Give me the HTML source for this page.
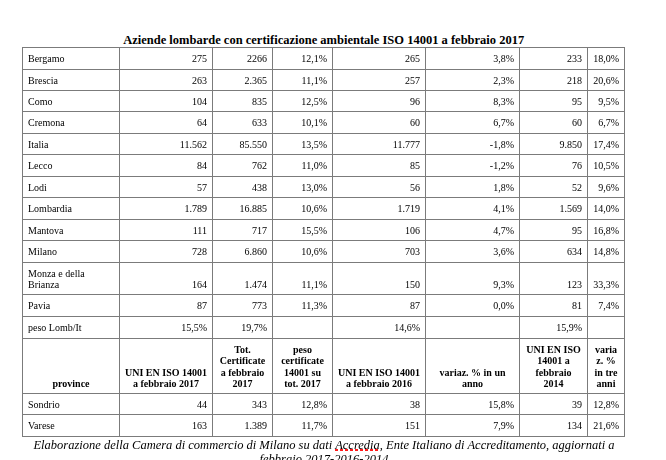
<!DOCTYPE html>
<html><head><meta charset="utf-8"><style>
html,body{margin:0;padding:0;background:#fff;}
body{width:666px;height:460px;position:relative;overflow:hidden;font-family:"Liberation Serif",serif;color:#000;}
.t{position:absolute;white-space:nowrap;}
.h{position:absolute;height:1px;background:#7b7b7b;}
.v{position:absolute;width:1px;background:#7b7b7b;}
.gl{position:absolute;left:0;top:0;width:666px;height:460px;will-change:transform;}
.sp{text-decoration:underline dotted #e02020;text-underline-offset:2px;}
</style></head><body>
<div class="h" style="left:22px;top:47px;width:603px"></div>
<div class="h" style="left:22px;top:69px;width:603px"></div>
<div class="h" style="left:22px;top:90px;width:603px"></div>
<div class="h" style="left:22px;top:111px;width:603px"></div>
<div class="h" style="left:22px;top:133px;width:603px"></div>
<div class="h" style="left:22px;top:154px;width:603px"></div>
<div class="h" style="left:22px;top:176px;width:603px"></div>
<div class="h" style="left:22px;top:197px;width:603px"></div>
<div class="h" style="left:22px;top:219px;width:603px"></div>
<div class="h" style="left:22px;top:240px;width:603px"></div>
<div class="h" style="left:22px;top:262px;width:603px"></div>
<div class="h" style="left:22px;top:294px;width:603px"></div>
<div class="h" style="left:22px;top:316px;width:603px"></div>
<div class="h" style="left:22px;top:338px;width:603px"></div>
<div class="h" style="left:22px;top:393px;width:603px"></div>
<div class="h" style="left:22px;top:414px;width:603px"></div>
<div class="h" style="left:22px;top:436px;width:603px"></div>
<div class="v" style="left:22px;top:47px;height:390px"></div>
<div class="v" style="left:119px;top:47px;height:390px"></div>
<div class="v" style="left:212px;top:47px;height:390px"></div>
<div class="v" style="left:272px;top:47px;height:390px"></div>
<div class="v" style="left:332px;top:47px;height:390px"></div>
<div class="v" style="left:425px;top:47px;height:390px"></div>
<div class="v" style="left:519px;top:47px;height:390px"></div>
<div class="v" style="left:587px;top:47px;height:390px"></div>
<div class="v" style="left:624px;top:47px;height:390px"></div>
<div class="t" style="left:23.70px;width:600px;text-align:center;top:33.76px;font-size:12.5px;line-height:13.838px;font-weight:bold;font-style:normal;">Aziende lombarde con certificazione ambientale ISO 14001 a febbraio 2017</div>
<div class="gl">
<div class="t" style="left:28.00px;top:52.99px;font-size:10.0px;line-height:11.070px;font-weight:normal;font-style:normal;">Bergamo</div>
<div class="t" style="right:459.00px;top:52.99px;font-size:10.0px;line-height:11.070px;font-weight:normal;font-style:normal;">275</div>
<div class="t" style="right:399.00px;top:52.99px;font-size:10.0px;line-height:11.070px;font-weight:normal;font-style:normal;">2266</div>
<div class="t" style="right:339.00px;top:52.99px;font-size:10.0px;line-height:11.070px;font-weight:normal;font-style:normal;">12,1%</div>
<div class="t" style="right:246.00px;top:52.99px;font-size:10.0px;line-height:11.070px;font-weight:normal;font-style:normal;">265</div>
<div class="t" style="right:152.00px;top:52.99px;font-size:10.0px;line-height:11.070px;font-weight:normal;font-style:normal;">3,8%</div>
<div class="t" style="right:84.00px;top:52.99px;font-size:10.0px;line-height:11.070px;font-weight:normal;font-style:normal;">233</div>
<div class="t" style="right:47.00px;top:52.99px;font-size:10.0px;line-height:11.070px;font-weight:normal;font-style:normal;">18,0%</div>
<div class="t" style="left:28.00px;top:74.99px;font-size:10.0px;line-height:11.070px;font-weight:normal;font-style:normal;">Brescia</div>
<div class="t" style="right:459.00px;top:74.99px;font-size:10.0px;line-height:11.070px;font-weight:normal;font-style:normal;">263</div>
<div class="t" style="right:399.00px;top:74.99px;font-size:10.0px;line-height:11.070px;font-weight:normal;font-style:normal;">2.365</div>
<div class="t" style="right:339.00px;top:74.99px;font-size:10.0px;line-height:11.070px;font-weight:normal;font-style:normal;">11,1%</div>
<div class="t" style="right:246.00px;top:74.99px;font-size:10.0px;line-height:11.070px;font-weight:normal;font-style:normal;">257</div>
<div class="t" style="right:152.00px;top:74.99px;font-size:10.0px;line-height:11.070px;font-weight:normal;font-style:normal;">2,3%</div>
<div class="t" style="right:84.00px;top:74.99px;font-size:10.0px;line-height:11.070px;font-weight:normal;font-style:normal;">218</div>
<div class="t" style="right:47.00px;top:74.99px;font-size:10.0px;line-height:11.070px;font-weight:normal;font-style:normal;">20,6%</div>
<div class="t" style="left:28.00px;top:95.99px;font-size:10.0px;line-height:11.070px;font-weight:normal;font-style:normal;">Como</div>
<div class="t" style="right:459.00px;top:95.99px;font-size:10.0px;line-height:11.070px;font-weight:normal;font-style:normal;">104</div>
<div class="t" style="right:399.00px;top:95.99px;font-size:10.0px;line-height:11.070px;font-weight:normal;font-style:normal;">835</div>
<div class="t" style="right:339.00px;top:95.99px;font-size:10.0px;line-height:11.070px;font-weight:normal;font-style:normal;">12,5%</div>
<div class="t" style="right:246.00px;top:95.99px;font-size:10.0px;line-height:11.070px;font-weight:normal;font-style:normal;">96</div>
<div class="t" style="right:152.00px;top:95.99px;font-size:10.0px;line-height:11.070px;font-weight:normal;font-style:normal;">8,3%</div>
<div class="t" style="right:84.00px;top:95.99px;font-size:10.0px;line-height:11.070px;font-weight:normal;font-style:normal;">95</div>
<div class="t" style="right:47.00px;top:95.99px;font-size:10.0px;line-height:11.070px;font-weight:normal;font-style:normal;">9,5%</div>
<div class="t" style="left:28.00px;top:116.99px;font-size:10.0px;line-height:11.070px;font-weight:normal;font-style:normal;">Cremona</div>
<div class="t" style="right:459.00px;top:116.99px;font-size:10.0px;line-height:11.070px;font-weight:normal;font-style:normal;">64</div>
<div class="t" style="right:399.00px;top:116.99px;font-size:10.0px;line-height:11.070px;font-weight:normal;font-style:normal;">633</div>
<div class="t" style="right:339.00px;top:116.99px;font-size:10.0px;line-height:11.070px;font-weight:normal;font-style:normal;">10,1%</div>
<div class="t" style="right:246.00px;top:116.99px;font-size:10.0px;line-height:11.070px;font-weight:normal;font-style:normal;">60</div>
<div class="t" style="right:152.00px;top:116.99px;font-size:10.0px;line-height:11.070px;font-weight:normal;font-style:normal;">6,7%</div>
<div class="t" style="right:84.00px;top:116.99px;font-size:10.0px;line-height:11.070px;font-weight:normal;font-style:normal;">60</div>
<div class="t" style="right:47.00px;top:116.99px;font-size:10.0px;line-height:11.070px;font-weight:normal;font-style:normal;">6,7%</div>
<div class="t" style="left:28.00px;top:138.99px;font-size:10.0px;line-height:11.070px;font-weight:normal;font-style:normal;">Italia</div>
<div class="t" style="right:459.00px;top:138.99px;font-size:10.0px;line-height:11.070px;font-weight:normal;font-style:normal;">11.562</div>
<div class="t" style="right:399.00px;top:138.99px;font-size:10.0px;line-height:11.070px;font-weight:normal;font-style:normal;">85.550</div>
<div class="t" style="right:339.00px;top:138.99px;font-size:10.0px;line-height:11.070px;font-weight:normal;font-style:normal;">13,5%</div>
<div class="t" style="right:246.00px;top:138.99px;font-size:10.0px;line-height:11.070px;font-weight:normal;font-style:normal;">11.777</div>
<div class="t" style="right:152.00px;top:138.99px;font-size:10.0px;line-height:11.070px;font-weight:normal;font-style:normal;">-1,8%</div>
<div class="t" style="right:84.00px;top:138.99px;font-size:10.0px;line-height:11.070px;font-weight:normal;font-style:normal;">9.850</div>
<div class="t" style="right:47.00px;top:138.99px;font-size:10.0px;line-height:11.070px;font-weight:normal;font-style:normal;">17,4%</div>
<div class="t" style="left:28.00px;top:159.99px;font-size:10.0px;line-height:11.070px;font-weight:normal;font-style:normal;">Lecco</div>
<div class="t" style="right:459.00px;top:159.99px;font-size:10.0px;line-height:11.070px;font-weight:normal;font-style:normal;">84</div>
<div class="t" style="right:399.00px;top:159.99px;font-size:10.0px;line-height:11.070px;font-weight:normal;font-style:normal;">762</div>
<div class="t" style="right:339.00px;top:159.99px;font-size:10.0px;line-height:11.070px;font-weight:normal;font-style:normal;">11,0%</div>
<div class="t" style="right:246.00px;top:159.99px;font-size:10.0px;line-height:11.070px;font-weight:normal;font-style:normal;">85</div>
<div class="t" style="right:152.00px;top:159.99px;font-size:10.0px;line-height:11.070px;font-weight:normal;font-style:normal;">-1,2%</div>
<div class="t" style="right:84.00px;top:159.99px;font-size:10.0px;line-height:11.070px;font-weight:normal;font-style:normal;">76</div>
<div class="t" style="right:47.00px;top:159.99px;font-size:10.0px;line-height:11.070px;font-weight:normal;font-style:normal;">10,5%</div>
<div class="t" style="left:28.00px;top:181.99px;font-size:10.0px;line-height:11.070px;font-weight:normal;font-style:normal;">Lodi</div>
<div class="t" style="right:459.00px;top:181.99px;font-size:10.0px;line-height:11.070px;font-weight:normal;font-style:normal;">57</div>
<div class="t" style="right:399.00px;top:181.99px;font-size:10.0px;line-height:11.070px;font-weight:normal;font-style:normal;">438</div>
<div class="t" style="right:339.00px;top:181.99px;font-size:10.0px;line-height:11.070px;font-weight:normal;font-style:normal;">13,0%</div>
<div class="t" style="right:246.00px;top:181.99px;font-size:10.0px;line-height:11.070px;font-weight:normal;font-style:normal;">56</div>
<div class="t" style="right:152.00px;top:181.99px;font-size:10.0px;line-height:11.070px;font-weight:normal;font-style:normal;">1,8%</div>
<div class="t" style="right:84.00px;top:181.99px;font-size:10.0px;line-height:11.070px;font-weight:normal;font-style:normal;">52</div>
<div class="t" style="right:47.00px;top:181.99px;font-size:10.0px;line-height:11.070px;font-weight:normal;font-style:normal;">9,6%</div>
<div class="t" style="left:28.00px;top:202.99px;font-size:10.0px;line-height:11.070px;font-weight:normal;font-style:normal;">Lombardia</div>
<div class="t" style="right:459.00px;top:202.99px;font-size:10.0px;line-height:11.070px;font-weight:normal;font-style:normal;">1.789</div>
<div class="t" style="right:399.00px;top:202.99px;font-size:10.0px;line-height:11.070px;font-weight:normal;font-style:normal;">16.885</div>
<div class="t" style="right:339.00px;top:202.99px;font-size:10.0px;line-height:11.070px;font-weight:normal;font-style:normal;">10,6%</div>
<div class="t" style="right:246.00px;top:202.99px;font-size:10.0px;line-height:11.070px;font-weight:normal;font-style:normal;">1.719</div>
<div class="t" style="right:152.00px;top:202.99px;font-size:10.0px;line-height:11.070px;font-weight:normal;font-style:normal;">4,1%</div>
<div class="t" style="right:84.00px;top:202.99px;font-size:10.0px;line-height:11.070px;font-weight:normal;font-style:normal;">1.569</div>
<div class="t" style="right:47.00px;top:202.99px;font-size:10.0px;line-height:11.070px;font-weight:normal;font-style:normal;">14,0%</div>
<div class="t" style="left:28.00px;top:224.99px;font-size:10.0px;line-height:11.070px;font-weight:normal;font-style:normal;">Mantova</div>
<div class="t" style="right:459.00px;top:224.99px;font-size:10.0px;line-height:11.070px;font-weight:normal;font-style:normal;">111</div>
<div class="t" style="right:399.00px;top:224.99px;font-size:10.0px;line-height:11.070px;font-weight:normal;font-style:normal;">717</div>
<div class="t" style="right:339.00px;top:224.99px;font-size:10.0px;line-height:11.070px;font-weight:normal;font-style:normal;">15,5%</div>
<div class="t" style="right:246.00px;top:224.99px;font-size:10.0px;line-height:11.070px;font-weight:normal;font-style:normal;">106</div>
<div class="t" style="right:152.00px;top:224.99px;font-size:10.0px;line-height:11.070px;font-weight:normal;font-style:normal;">4,7%</div>
<div class="t" style="right:84.00px;top:224.99px;font-size:10.0px;line-height:11.070px;font-weight:normal;font-style:normal;">95</div>
<div class="t" style="right:47.00px;top:224.99px;font-size:10.0px;line-height:11.070px;font-weight:normal;font-style:normal;">16,8%</div>
<div class="t" style="left:28.00px;top:245.99px;font-size:10.0px;line-height:11.070px;font-weight:normal;font-style:normal;">Milano</div>
<div class="t" style="right:459.00px;top:245.99px;font-size:10.0px;line-height:11.070px;font-weight:normal;font-style:normal;">728</div>
<div class="t" style="right:399.00px;top:245.99px;font-size:10.0px;line-height:11.070px;font-weight:normal;font-style:normal;">6.860</div>
<div class="t" style="right:339.00px;top:245.99px;font-size:10.0px;line-height:11.070px;font-weight:normal;font-style:normal;">10,6%</div>
<div class="t" style="right:246.00px;top:245.99px;font-size:10.0px;line-height:11.070px;font-weight:normal;font-style:normal;">703</div>
<div class="t" style="right:152.00px;top:245.99px;font-size:10.0px;line-height:11.070px;font-weight:normal;font-style:normal;">3,6%</div>
<div class="t" style="right:84.00px;top:245.99px;font-size:10.0px;line-height:11.070px;font-weight:normal;font-style:normal;">634</div>
<div class="t" style="right:47.00px;top:245.99px;font-size:10.0px;line-height:11.070px;font-weight:normal;font-style:normal;">14,8%</div>
<div class="t" style="left:28.00px;top:267.99px;font-size:10.0px;line-height:11.070px;font-weight:normal;font-style:normal;">Monza e della</div>
<div class="t" style="left:28.00px;top:278.79px;font-size:10.0px;line-height:11.070px;font-weight:normal;font-style:normal;">Brianza</div>
<div class="t" style="right:459.00px;top:278.79px;font-size:10.0px;line-height:11.070px;font-weight:normal;font-style:normal;">164</div>
<div class="t" style="right:399.00px;top:278.79px;font-size:10.0px;line-height:11.070px;font-weight:normal;font-style:normal;">1.474</div>
<div class="t" style="right:339.00px;top:278.79px;font-size:10.0px;line-height:11.070px;font-weight:normal;font-style:normal;">11,1%</div>
<div class="t" style="right:246.00px;top:278.79px;font-size:10.0px;line-height:11.070px;font-weight:normal;font-style:normal;">150</div>
<div class="t" style="right:152.00px;top:278.79px;font-size:10.0px;line-height:11.070px;font-weight:normal;font-style:normal;">9,3%</div>
<div class="t" style="right:84.00px;top:278.79px;font-size:10.0px;line-height:11.070px;font-weight:normal;font-style:normal;">123</div>
<div class="t" style="right:47.00px;top:278.79px;font-size:10.0px;line-height:11.070px;font-weight:normal;font-style:normal;">33,3%</div>
<div class="t" style="left:28.00px;top:299.99px;font-size:10.0px;line-height:11.070px;font-weight:normal;font-style:normal;">Pavia</div>
<div class="t" style="right:459.00px;top:299.99px;font-size:10.0px;line-height:11.070px;font-weight:normal;font-style:normal;">87</div>
<div class="t" style="right:399.00px;top:299.99px;font-size:10.0px;line-height:11.070px;font-weight:normal;font-style:normal;">773</div>
<div class="t" style="right:339.00px;top:299.99px;font-size:10.0px;line-height:11.070px;font-weight:normal;font-style:normal;">11,3%</div>
<div class="t" style="right:246.00px;top:299.99px;font-size:10.0px;line-height:11.070px;font-weight:normal;font-style:normal;">87</div>
<div class="t" style="right:152.00px;top:299.99px;font-size:10.0px;line-height:11.070px;font-weight:normal;font-style:normal;">0,0%</div>
<div class="t" style="right:84.00px;top:299.99px;font-size:10.0px;line-height:11.070px;font-weight:normal;font-style:normal;">81</div>
<div class="t" style="right:47.00px;top:299.99px;font-size:10.0px;line-height:11.070px;font-weight:normal;font-style:normal;">7,4%</div>
<div class="t" style="left:28.00px;top:321.99px;font-size:10.0px;line-height:11.070px;font-weight:normal;font-style:normal;">peso Lomb/It</div>
<div class="t" style="right:459.00px;top:321.99px;font-size:10.0px;line-height:11.070px;font-weight:normal;font-style:normal;">15,5%</div>
<div class="t" style="right:399.00px;top:321.99px;font-size:10.0px;line-height:11.070px;font-weight:normal;font-style:normal;">19,7%</div>
<div class="t" style="right:246.00px;top:321.99px;font-size:10.0px;line-height:11.070px;font-weight:normal;font-style:normal;">14,6%</div>
<div class="t" style="right:84.00px;top:321.99px;font-size:10.0px;line-height:11.070px;font-weight:normal;font-style:normal;">15,9%</div>
<div class="t" style="left:-229.00px;width:600px;text-align:center;top:377.79px;font-size:10.0px;line-height:11.070px;font-weight:bold;font-style:normal;">province</div>
<div class="t" style="left:-134.00px;width:600px;text-align:center;top:366.89px;font-size:10.0px;line-height:11.070px;font-weight:bold;font-style:normal;">UNI EN ISO 14001</div>
<div class="t" style="left:-134.00px;width:600px;text-align:center;top:377.79px;font-size:10.0px;line-height:11.070px;font-weight:bold;font-style:normal;">a febbraio 2017</div>
<div class="t" style="left:-57.50px;width:600px;text-align:center;top:344.09px;font-size:10.0px;line-height:11.070px;font-weight:bold;font-style:normal;">Tot.</div>
<div class="t" style="left:-57.50px;width:600px;text-align:center;top:355.09px;font-size:10.0px;line-height:11.070px;font-weight:bold;font-style:normal;">Certificate</div>
<div class="t" style="left:-57.50px;width:600px;text-align:center;top:366.89px;font-size:10.0px;line-height:11.070px;font-weight:bold;font-style:normal;">a febbraio</div>
<div class="t" style="left:-57.50px;width:600px;text-align:center;top:377.79px;font-size:10.0px;line-height:11.070px;font-weight:bold;font-style:normal;">2017</div>
<div class="t" style="left:2.50px;width:600px;text-align:center;top:344.09px;font-size:10.0px;line-height:11.070px;font-weight:bold;font-style:normal;">peso</div>
<div class="t" style="left:2.50px;width:600px;text-align:center;top:355.09px;font-size:10.0px;line-height:11.070px;font-weight:bold;font-style:normal;">certificate</div>
<div class="t" style="left:2.50px;width:600px;text-align:center;top:366.89px;font-size:10.0px;line-height:11.070px;font-weight:bold;font-style:normal;">14001 su</div>
<div class="t" style="left:2.50px;width:600px;text-align:center;top:377.79px;font-size:10.0px;line-height:11.070px;font-weight:bold;font-style:normal;">tot. 2017</div>
<div class="t" style="left:79.00px;width:600px;text-align:center;top:366.89px;font-size:10.0px;line-height:11.070px;font-weight:bold;font-style:normal;">UNI EN ISO 14001</div>
<div class="t" style="left:79.00px;width:600px;text-align:center;top:377.79px;font-size:10.0px;line-height:11.070px;font-weight:bold;font-style:normal;">a febbraio 2016</div>
<div class="t" style="left:172.50px;width:600px;text-align:center;top:366.89px;font-size:10.0px;line-height:11.070px;font-weight:bold;font-style:normal;">variaz. &#37; in un</div>
<div class="t" style="left:172.50px;width:600px;text-align:center;top:377.79px;font-size:10.0px;line-height:11.070px;font-weight:bold;font-style:normal;">anno</div>
<div class="t" style="left:253.50px;width:600px;text-align:center;top:344.09px;font-size:10.0px;line-height:11.070px;font-weight:bold;font-style:normal;">UNI EN ISO</div>
<div class="t" style="left:253.50px;width:600px;text-align:center;top:355.09px;font-size:10.0px;line-height:11.070px;font-weight:bold;font-style:normal;">14001 a</div>
<div class="t" style="left:253.50px;width:600px;text-align:center;top:366.89px;font-size:10.0px;line-height:11.070px;font-weight:bold;font-style:normal;">febbraio</div>
<div class="t" style="left:253.50px;width:600px;text-align:center;top:377.79px;font-size:10.0px;line-height:11.070px;font-weight:bold;font-style:normal;">2014</div>
<div class="t" style="left:306.00px;width:600px;text-align:center;top:344.09px;font-size:10.0px;line-height:11.070px;font-weight:bold;font-style:normal;">varia</div>
<div class="t" style="left:306.00px;width:600px;text-align:center;top:355.09px;font-size:10.0px;line-height:11.070px;font-weight:bold;font-style:normal;">z. &#37;</div>
<div class="t" style="left:306.00px;width:600px;text-align:center;top:366.89px;font-size:10.0px;line-height:11.070px;font-weight:bold;font-style:normal;">in tre</div>
<div class="t" style="left:306.00px;width:600px;text-align:center;top:377.79px;font-size:10.0px;line-height:11.070px;font-weight:bold;font-style:normal;">anni</div>
<div class="t" style="left:28.00px;top:398.99px;font-size:10.0px;line-height:11.070px;font-weight:normal;font-style:normal;">Sondrio</div>
<div class="t" style="right:459.00px;top:398.99px;font-size:10.0px;line-height:11.070px;font-weight:normal;font-style:normal;">44</div>
<div class="t" style="right:399.00px;top:398.99px;font-size:10.0px;line-height:11.070px;font-weight:normal;font-style:normal;">343</div>
<div class="t" style="right:339.00px;top:398.99px;font-size:10.0px;line-height:11.070px;font-weight:normal;font-style:normal;">12,8%</div>
<div class="t" style="right:246.00px;top:398.99px;font-size:10.0px;line-height:11.070px;font-weight:normal;font-style:normal;">38</div>
<div class="t" style="right:152.00px;top:398.99px;font-size:10.0px;line-height:11.070px;font-weight:normal;font-style:normal;">15,8%</div>
<div class="t" style="right:84.00px;top:398.99px;font-size:10.0px;line-height:11.070px;font-weight:normal;font-style:normal;">39</div>
<div class="t" style="right:47.00px;top:398.99px;font-size:10.0px;line-height:11.070px;font-weight:normal;font-style:normal;">12,8%</div>
<div class="t" style="left:28.00px;top:419.99px;font-size:10.0px;line-height:11.070px;font-weight:normal;font-style:normal;">Varese</div>
<div class="t" style="right:459.00px;top:419.99px;font-size:10.0px;line-height:11.070px;font-weight:normal;font-style:normal;">163</div>
<div class="t" style="right:399.00px;top:419.99px;font-size:10.0px;line-height:11.070px;font-weight:normal;font-style:normal;">1.389</div>
<div class="t" style="right:339.00px;top:419.99px;font-size:10.0px;line-height:11.070px;font-weight:normal;font-style:normal;">11,7%</div>
<div class="t" style="right:246.00px;top:419.99px;font-size:10.0px;line-height:11.070px;font-weight:normal;font-style:normal;">151</div>
<div class="t" style="right:152.00px;top:419.99px;font-size:10.0px;line-height:11.070px;font-weight:normal;font-style:normal;">7,9%</div>
<div class="t" style="right:84.00px;top:419.99px;font-size:10.0px;line-height:11.070px;font-weight:normal;font-style:normal;">134</div>
<div class="t" style="right:47.00px;top:419.99px;font-size:10.0px;line-height:11.070px;font-weight:normal;font-style:normal;">21,6%</div>
</div>
<div style="position:absolute;left:335px;top:449px;width:43px;height:2px;background:repeating-linear-gradient(90deg,#ff1a1a 0 3px,transparent 3px 5px)"></div>
<div class="t" style="left:24.00px;width:600px;text-align:center;top:438.66px;font-size:12.5px;line-height:13.838px;font-weight:normal;font-style:italic;">Elaborazione della Camera di commercio di Milano su dati Accredia, Ente Italiano di Accreditamento, aggiornati a</div>
<div class="t" style="left:24.00px;width:600px;text-align:center;top:452.66px;font-size:12.5px;line-height:13.838px;font-weight:normal;font-style:italic;">febbraio 2017-2016-2014</div>
</body></html>
